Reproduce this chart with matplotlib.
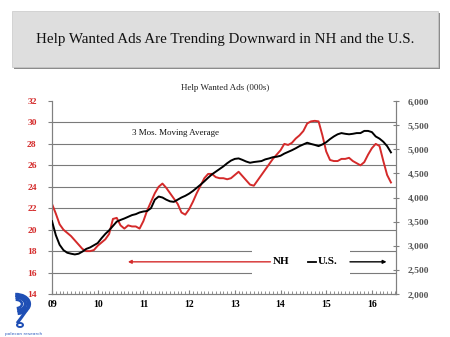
import matplotlib
matplotlib.use("Agg")
import matplotlib.pyplot as plt
from matplotlib.patches import Rectangle, Arc, Ellipse
import numpy as np

# ---- data (monthly, Jan 2009 .. Jun 2016) ----
start_year = 2009
nh_values = [22.4, 21.5, 20.5, 20.0, 19.7, 19.4, 19.0, 18.6, 18.2, 18.0, 18.0, 18.1,
             18.5, 18.8, 19.1, 19.6, 21.0, 21.1, 20.4, 20.1, 20.4, 20.3, 20.3, 20.1,
             20.8, 21.8, 22.6, 23.4, 24.0, 24.3, 23.9, 23.4, 22.9, 22.4, 21.6, 21.4,
             21.9, 22.6, 23.4, 24.1, 24.8, 25.2, 25.2, 24.9, 24.8, 24.8, 24.7, 24.8,
             25.1, 25.4, 25.0, 24.6, 24.2, 24.1, 24.6, 25.1, 25.6, 26.1, 26.6, 27.0,
             27.4, 28.0, 27.9, 28.1, 28.5, 28.8, 29.2, 29.9, 30.1, 30.15, 30.1, 28.8,
             27.3, 26.5, 26.4, 26.4, 26.6, 26.6, 26.7, 26.4, 26.2, 26.0, 26.3, 27.0,
             27.6, 28.0, 27.8, 26.4, 25.1, 24.4]
us_values = [3510, 3220, 3020, 2910, 2855, 2835, 2820, 2835, 2880, 2935, 2965, 3010,
             3055, 3155, 3245, 3320, 3410, 3500, 3535, 3565, 3600, 3635, 3655, 3690,
             3710, 3720, 3780, 3955, 4020, 4000, 3955, 3920, 3910, 3955, 4000, 4035,
             4080, 4135, 4200, 4265, 4335, 4410, 4480, 4535, 4590, 4645, 4710, 4765,
             4800, 4810, 4780, 4745, 4720, 4735, 4745, 4755, 4790, 4810, 4835, 4845,
             4865, 4910, 4945, 4980, 5020, 5065, 5100, 5135, 5110, 5090, 5065, 5100,
             5145, 5210, 5265, 5310, 5335, 5320, 5310, 5320, 5335, 5335, 5380, 5380,
             5355, 5265, 5220, 5155, 5065, 4935]
year_labels = ["09", "10", "11", "12", "13", "14", "15", "16"]
left_ticks = [14, 16, 18, 20, 22, 24, 26, 28, 30, 32]
right_ticks = [2000, 2500, 3000, 3500, 4000, 4500, 5000, 5500, 6000]

months = start_year + np.arange(len(nh_values)) / 12.0

RED = "#d42a2a"
serif = ["Liberation Serif", "DejaVu Serif"]

fig = plt.figure(figsize=(4.5, 3.37), dpi=100)
fig.patch.set_facecolor("white")
W, H = 450.0, 337.0

# title box with shadow
fig.patches.append(Rectangle((14 / W, 1 - 69 / H), 426 / W, 56 / H, transform=fig.transFigure,
                             facecolor="#8c8c8c", edgecolor="none", zorder=0))
fig.patches.append(Rectangle((12 / W, 1 - 67 / H), 426 / W, 56 / H, transform=fig.transFigure,
                             facecolor="#dedede", edgecolor="#c8c8c8", linewidth=0.5, zorder=1))
fig.text(225 / W, 1 - 40 / H, "Help Wanted Ads Are Trending Downward in NH and the U.S.",
         ha="center", va="center", fontsize=10.8, family=serif, color="#111111", zorder=2)

# chart subtitle
fig.text(225 / W, 1 - 88 / H, "Help Wanted Ads (000s)", ha="center", va="center",
         fontsize=6.5, family=serif, color="#222222")

ax = fig.add_axes([52 / W, 1 - 294 / H, 344 / W, 193 / H])
ax2 = ax.twinx()

ax.set_xlim(2009, 2009 + 344 / 45.7)
ax.set_ylim(14, 32)
ax2.set_ylim(2000, 6000)

# gridlines
for v in left_ticks[1:-1]:
    ax.axhline(v, color="#7a7a7a", lw=0.8, zorder=1)

ax.plot(months, nh_values, color=RED, lw=1.4, zorder=4)
ax2.plot(months, us_values, color="black", lw=1.4, zorder=4)

# axes styling
for a in (ax, ax2):
    a.spines["top"].set_visible(False)
    a.spines["left"].set_color("#808080")
    a.spines["right"].set_color("#808080")
    a.spines["bottom"].set_color("#808080")
    a.patch.set_visible(False)

ax.set_yticks(left_ticks)
ax.set_yticklabels([str(v) for v in left_ticks], color=RED, fontsize=6.8,
                   family=serif, fontweight="bold")
ax.tick_params(axis="y", direction="out", length=3, color="#808080", pad=8)

ax2.set_yticks(right_ticks)
ax2.set_yticklabels([f"{v:,}" for v in right_ticks], color="#555555", fontsize=6.8,
                    family=serif, fontweight="bold")
ax2.tick_params(axis="y", direction="inout", length=5, color="#808080", pad=6)

years = [start_year + i for i in range(len(year_labels))]
ax.set_xticks(years)
ax.set_xticklabels(year_labels, fontsize=7, family=serif, fontweight="bold")
ax.set_xticks(start_year + np.arange(0, 91) / 12.0, minor=True)
ax.tick_params(axis="x", which="major", direction="in", length=3, color="#808080", pad=4)
ax.tick_params(axis="x", which="minor", direction="in", length=2.5, color="#808080")

# annotation text
ax.text(2010.75, 29.0, "3 Mos. Moving Average", fontsize=6.5, family=serif,
        color="#111111", va="center", ha="left", zorder=5)

# legend-like block
ax.add_patch(Rectangle((2013.38, 15.3), 2.14, 3.3, facecolor="white", edgecolor="none", zorder=2))
ax.annotate("", xy=(2010.66, 17.0), xytext=(2013.78, 17.0),
            arrowprops=dict(arrowstyle="-|>", color=RED, lw=1.0, mutation_scale=5,
                            shrinkA=0, shrinkB=0), zorder=5)
ax.text(2013.83, 17.0, "NH", fontsize=8, family=serif, fontweight="bold",
        va="center", ha="left", zorder=5)
ax.plot([2014.6, 2014.78], [17.0, 17.0], color="black", lw=1.3, zorder=5)
ax.text(2014.82, 17.0, "U.S.", fontsize=8, family=serif, fontweight="bold",
        va="center", ha="left", zorder=5)
ax.annotate("", xy=(2016.32, 17.0), xytext=(2015.52, 17.0),
            arrowprops=dict(arrowstyle="-|>", color="black", lw=1.0, mutation_scale=5,
                            shrinkA=0, shrinkB=0), zorder=5)

# simple logo approximation
lax = fig.add_axes([4 / W, 1 - 337 / H, 44 / W, 50 / H])
lax.set_xlim(0, 44)
lax.set_ylim(0, 50)
lax.axis("off")
for r, lw in [(13, 3.0), (9.5, 2.4), (6, 1.8)]:
    lax.add_patch(Arc((12, 33), 2 * r, 1.4 * r, theta1=-80, theta2=95, color="#1f4fb5", lw=lw))
lax.plot([22, 17, 14], [26, 19, 15], color="#1f4fb5", lw=2.2)
lax.add_patch(Ellipse((16, 12), 6, 4, facecolor="none", edgecolor="#1f4fb5", lw=1.4))
lax.text(20, 3, "polecon research", fontsize=3.2, color="#2a5ac0", ha="center", va="center")

fig.savefig("out.png", dpi=100, facecolor="white")
